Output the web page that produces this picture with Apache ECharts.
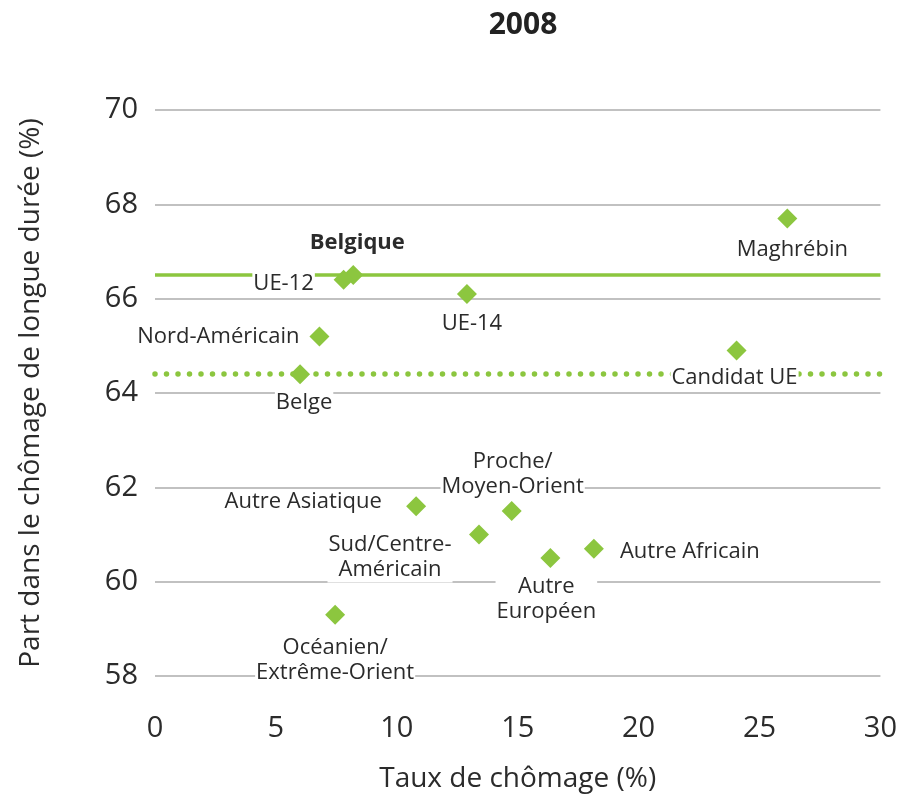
<!DOCTYPE html>
<html>
<head>
<meta charset="utf-8">
<script src="https://cdn.jsdelivr.net/npm/echarts@6/dist/echarts.min.js"></script>
<style>html,body{margin:0;padding:0;background:#fff}#c{width:900px;height:798px}</style>
</head>
<body>
<div id="c"></div>
<script>
// ---- data ----
var names = ['Belgique', 'UE-12', 'Nord-Américain', 'Belge', 'UE-14', 'Maghrébin', 'Candidat UE',
  'Autre Asiatique', 'Proche/\nMoyen-Orient', 'Sud/Centre-\nAméricain', 'Autre\nEuropéen', 'Autre Africain',
  'Océanien/\nExtrême-Orient'];
var unemployment = [8.2, 7.8, 6.8, 6.0, 12.9, 26.15, 24.05, 10.8, 14.75, 13.4, 16.35, 18.15, 7.45];
var longTermShare = [66.5, 66.4, 65.2, 64.4, 66.1, 67.7, 64.9, 61.6, 61.5, 61.0, 60.5, 60.7, 59.3];
var belgiqueLevel = 66.5;
var belgeLevel = 64.4;
var xTicks = [0, 30, 5];   // min, max, interval
var yTicks = [58, 70, 2];

// ---- label placement (styling only) ----
var labelOffsets = [[4, -32], [-60, 4], [-101, 0], [4, 29], [5, 30], [5, 31], [-2, 27],
  [-113, -4], [1, -37], [-89, 23], [-4, 41], [96, 3], [0, 46]];

var GREEN = '#8cc63f';
var TEXT = '#2b2b2b';
var FONT = 'Open Sans';
var SYM = 20;

var pts = names.map(function (n, i) {
  return {
    name: n,
    value: [unemployment[i], longTermShare[i]],
    label: {
      position: [SYM / 2 + labelOffsets[i][0], SYM / 2 + labelOffsets[i][1]],
      fontWeight: i === 0 ? 'bold' : 'normal'
    }
  };
});

var chart = echarts.init(document.getElementById('c'), null, {renderer: 'canvas'});
chart.setOption({
  animation: false,
  title: {
    text: '2008', left: 518, top: 5, textAlign: 'center',
    textStyle: {fontFamily: FONT, fontSize: 30, fontWeight: 'bold', color: '#222'}
  },
  grid: {left: 155, right: 19, top: 110, bottom: 122},
  xAxis: {
    type: 'value', min: xTicks[0], max: xTicks[1], interval: xTicks[2],
    name: 'Taux de chômage (%)', nameLocation: 'middle', nameGap: 89,
    nameTextStyle: {fontFamily: FONT, fontSize: 28, color: TEXT},
    axisLine: {show: false}, axisTick: {show: false}, splitLine: {show: false},
    axisLabel: {fontFamily: FONT, fontSize: 29, color: TEXT, margin: 38}
  },
  yAxis: {
    type: 'value', min: yTicks[0], max: yTicks[1], interval: yTicks[2],
    name: 'Part dans le chômage de longue durée (%)', nameLocation: 'middle', nameGap: 110,
    nameTextStyle: {fontFamily: FONT, fontSize: 28, color: TEXT},
    axisLine: {show: false}, axisTick: {show: false},
    splitLine: {lineStyle: {color: '#adadad', width: 1.5}},
    axisLabel: {fontFamily: FONT, fontSize: 29, color: TEXT, margin: 17}
  },
  series: [
    {
      type: 'scatter', data: [], z: 1, silent: true,
      markLine: {
        symbol: 'none', silent: true, label: {show: false},
        data: [
          {yAxis: belgiqueLevel, lineStyle: {color: GREEN, width: 3.5, type: 'solid'}},
          {yAxis: belgeLevel, lineStyle: {color: GREEN, width: 5.5, type: [0, 11.5], cap: 'round'}}
        ]
      }
    },
    {
      type: 'scatter', z: 5,
      symbol: 'diamond', symbolSize: SYM,
      itemStyle: {color: GREEN, opacity: 1},
      data: pts,
      label: {
        show: true, formatter: '{b}',
        fontFamily: FONT, fontSize: 22, color: TEXT, lineHeight: 25,
        backgroundColor: '#ffffff', padding: [0, 1], align: 'center', verticalAlign: 'middle'
      },
      labelLayout: {hideOverlap: false}
    }
  ]
});
</script>
</body>
</html>
